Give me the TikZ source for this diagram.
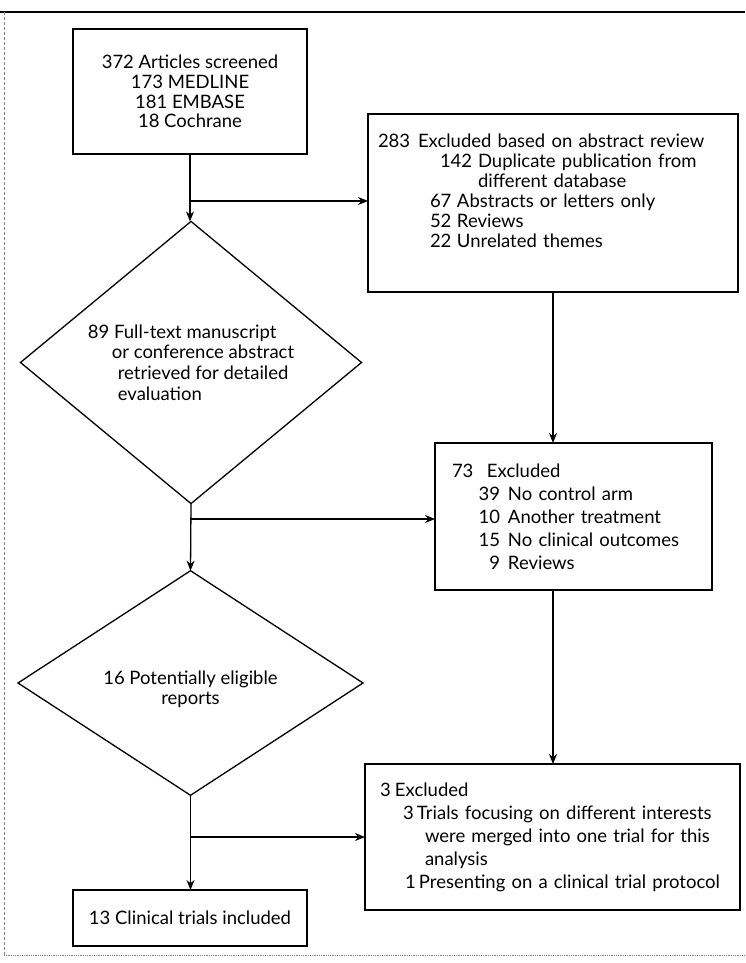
\documentclass[tikz,border=0pt]{standalone}
\usepackage{fontspec}
\setmainfont{Lato}
\usetikzlibrary{arrows.meta,positioning,shapes.geometric}

\begin{document}
\begin{tikzpicture}[x=1pt,y=-1pt,>=Stealth,
  box/.style={draw,line width=1.3pt,outer sep=0pt,inner ysep=0pt},
  decision/.style={draw,diamond,line width=1.3pt,outer sep=0pt,inner sep=0pt},
  arrow/.style={-{Stealth[length=10pt,width=8pt]},line width=1.3pt}
]
\useasboundingbox (0,0) rectangle (745,963);
% page frame of the scan
\draw[line width=2.2pt] (0,12) -- (745,12);
\draw[gray,line width=1pt,densely dashed] (4,12) -- (4,955);
\draw[gray,line width=0.8pt,densely dotted] (4,955) -- (745,955);

\node[box,minimum width=234,minimum height=125,align=center,font=\fontsize{18.5}{19.7}\selectfont] (screen) at (190,91.5)
  {372 Articles screened\\173 MEDLINE\\181 EMBASE\\18 Cochrane};
\node[box,minimum width=370,minimum height=178,inner xsep=10pt,text width=350pt,align=left,font=\fontsize{18.5}{20}\selectfont] (abstr) at (553,203)
  {\makebox[40pt][l]{283}Excluded based on abstract review\\
   \hspace*{62pt}\makebox[38pt][l]{142}Duplicate publication from\\
   \hspace*{100pt}different database\\
   \hspace*{52pt}\makebox[27pt][l]{67}Abstracts or letters only\\
   \hspace*{52pt}\makebox[27pt][l]{52}Reviews\\
   \hspace*{52pt}\makebox[27pt][l]{22}Unrelated themes\rule[-24pt]{0pt}{0pt}};
\node[decision,minimum width=341,minimum height=225,align=left,font=\fontsize{18.5}{20.7}\selectfont] (diam1) at (191,362.5)
  {89 Full-text manuscript\\
   \hspace*{24pt}or conference abstract\\
   \hspace*{30pt}retrieved for detailed\\
   \hspace*{30pt}evaluation};
\node[box,minimum width=277,minimum height=147,inner xsep=17pt,text width=243pt,align=left,font=\fontsize{18.5}{23}\selectfont] (excl) at (573.5,516.5)
  {\makebox[35pt][l]{73}Excluded\\
   \hspace*{21pt}\makebox[27pt][r]{39}\hspace{8pt}No control arm\\
   \hspace*{21pt}\makebox[27pt][r]{10}\hspace{8pt}Another treatment\\
   \hspace*{21pt}\makebox[27pt][r]{15}\hspace{8pt}No clinical outcomes\\
   \hspace*{21pt}\makebox[27pt][r]{9}\hspace{8pt}Reviews};
\node[decision,minimum width=345,minimum height=224,align=center,font=\fontsize{18.5}{20}\selectfont] (diam2) at (190.5,683)
  {\rule{0pt}{27pt}16 Potentially eligible\\reports};
\node[box,minimum width=375,minimum height=146,inner xsep=12pt,text width=351pt,align=left,font=\fontsize{18.5}{23}\selectfont] (final) at (552.5,837)
  {\hspace*{3pt}\makebox[15pt][l]{3}Excluded\\
   \hspace*{26pt}\makebox[14pt][l]{3}Trials focusing on different interests\\
   \hspace*{48pt}were merged into one trial for this\\
   \hspace*{48pt}analysis\\
   \hspace*{28pt}\makebox[14pt][l]{1}Presenting on a clinical trial protocol};
\node[box,minimum width=234,minimum height=56,align=center,font=\fontsize{18.5}{20}\selectfont] (incl) at (190,918)
  {13 Clinical trials included};

\coordinate (br1) at (190.5,201);
\coordinate (br2) at (190.5,519);
\coordinate (br3) at (190.5,837);

\draw[arrow] (screen.south) -- (screen.south |- diam1.north);
\draw[arrow] (br1) -- (br1 -| abstr.west);
\draw[arrow] (abstr.south) -- (abstr.south |- excl.north);
\draw[arrow] (diam1.south) -- (diam2.north);
\draw[arrow] (br2) -- (br2 -| excl.west);
\draw[arrow] (abstr.south |- excl.south) -- (abstr.south |- final.north);
\draw[arrow] (diam2.south) -- (diam2.south |- incl.north);
\draw[arrow] (br3) -- (br3 -| final.west);
\end{tikzpicture}
\end{document}
